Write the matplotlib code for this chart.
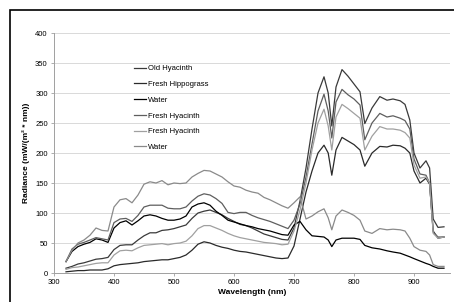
import numpy as np
import matplotlib
matplotlib.use('Agg')
from matplotlib import pyplot as plt
from matplotlib.patches import Rectangle

plt.rcParams['font.family'] = ['Liberation Sans', 'DejaVu Sans']

# wavelength grid (nm)
wavelength = [320, 330, 340, 350, 360, 370, 380, 390, 400, 410, 420, 430, 440,
              450, 460, 470, 480, 490, 500, 510, 520, 530, 540, 550, 560, 570,
              580, 590, 600, 610, 620, 630, 640, 650, 660, 670, 680, 690, 700,
              710, 720, 730, 740, 750, 757, 763, 770, 780, 790, 800, 810, 818,
              830, 843, 855, 865, 877, 885, 893, 900, 910, 920, 926, 932, 940, 950]

old_hyacinth = [8, 11, 15, 17, 20, 23, 24, 26, 39, 46, 47, 47, 55,
                62, 67, 67, 71, 72, 74, 77, 80, 91, 100, 103, 105, 101,
                97, 91, 86, 81, 79, 75, 70, 65, 62, 59, 56, 55, 75,
                120, 175, 240, 300, 327, 300, 245, 310, 339, 328, 315, 302, 249,
                275, 294, 288, 290, 287, 281, 255, 200, 175, 187, 175, 90, 76, 77]

fresh_hippograss = [2, 3, 4, 4, 5, 5, 5, 7, 12, 14, 15, 16, 17,
                    19, 20, 21, 22, 22, 24, 26, 30, 38, 48, 52, 50, 46,
                    43, 41, 38, 36, 35, 33, 31, 29, 27, 25, 24, 25, 45,
                    90, 135, 170, 200, 213, 200, 163, 205, 226, 220, 214, 205, 178,
                    200, 211, 210, 213, 212, 208, 200, 170, 150, 158, 148, 70, 58, 60]

water_1 = [19, 36, 44, 48, 51, 57, 55, 51, 75, 84, 87, 80, 87,
           95, 97, 95, 91, 88, 88, 90, 95, 110, 115, 117, 113, 103,
           96, 88, 85, 82, 79, 77, 74, 72, 70, 67, 64, 63, 80,
           86, 72, 62, 61, 60, 55, 44, 55, 58, 58, 58, 56, 46,
           42, 40, 37, 35, 33, 30, 27, 24, 20, 16, 14, 11, 8, 8]

fresh_hyacinth_1 = [19, 40, 48, 51, 55, 59, 57, 55, 84, 90, 91, 86, 96,
                    110, 113, 113, 113, 108, 107, 107, 110, 120, 128, 132, 130, 124,
                    116, 101, 99, 101, 101, 96, 92, 89, 86, 82, 78, 74, 88,
                    115, 160, 215, 270, 298, 270, 225, 285, 306, 297, 290, 280, 222,
                    250, 266, 260, 262, 258, 254, 240, 190, 165, 163, 150, 68, 60, 60]

fresh_hyacinth_2 = [6, 9, 10, 12, 14, 16, 17, 17, 30, 37, 38, 37, 42,
                    46, 47, 48, 49, 47, 49, 50, 53, 62, 74, 79, 79, 75,
                    71, 66, 62, 59, 57, 55, 53, 51, 50, 49, 47, 48, 70,
                    105, 150, 205, 250, 273, 245, 205, 260, 281, 274, 266, 258, 205,
                    228, 244, 240, 240, 238, 234, 225, 180, 158, 160, 150, 66, 58, 60]

water_2 = [19, 38, 50, 55, 63, 75, 71, 70, 110, 122, 124, 117, 130,
           148, 152, 150, 154, 147, 150, 149, 150, 160, 166, 171, 170, 165,
           160, 152, 145, 143, 138, 135, 133, 126, 122, 117, 112, 108, 117,
           127, 90, 95, 102, 107, 92, 72, 95, 105, 101, 96, 88, 70,
           66, 74, 72, 73, 72, 70, 58, 44, 38, 36, 30, 14, 11, 11]

series = [
    ('Old Hyacinth', old_hyacinth, '#3a3a3a'),
    ('Fresh Hippograss', fresh_hippograss, '#2a2a2a'),
    ('Water', water_1, '#000000'),
    ('Fresh Hyacinth', fresh_hyacinth_1, '#5e5e5e'),
    ('Fresh Hyacinth', fresh_hyacinth_2, '#a0a0a0'),
    ('Water', water_2, '#8a8a8a'),
]

my_dpi = 100
fig = plt.figure(figsize=(454/my_dpi, 302/my_dpi), dpi=my_dpi)
ax = fig.add_axes([54/454, 1 - 273/302, 396/454, 240/302])

for name, values, color in series:
    ax.plot(wavelength, values, color=color, lw=0.9, label=name)

ax.set_xlim(300, 960)
ax.set_ylim(0, 400)
ax.set_xticks(np.arange(300, 901, 100))
ax.set_yticks(np.arange(0, 401, 50))
ax.tick_params(labelsize=5.5, length=2.5, width=0.6, color='#a0a0a0', pad=2)
ax.grid(axis='y', color='#d9d9d9', lw=0.7)
ax.set_axisbelow(True)
for side in ['top', 'right']:
    ax.spines[side].set_visible(False)
for side in ['left', 'bottom']:
    ax.spines[side].set_color('#a0a0a0')
    ax.spines[side].set_linewidth(0.7)

ax.set_xlabel('Wavelength (nm)', fontsize=6, fontweight='bold', labelpad=2)
ax.set_ylabel('Radiance (mW/(m² * nm))', fontsize=6, fontweight='bold', labelpad=4)

ax.legend(loc='upper left', bbox_to_anchor=(0.185, 0.895), frameon=False,
          fontsize=5.5, handlelength=1.6, handletextpad=0.2, labelspacing=1.1)

# outer chart border
fig.patches.append(Rectangle((10/454, -0.1), 1.2, 1 - 10/302 + 0.1,
                             transform=fig.transFigure, fill=False,
                             edgecolor='black', lw=1.2))

fig.savefig('out.png', dpi=my_dpi)
